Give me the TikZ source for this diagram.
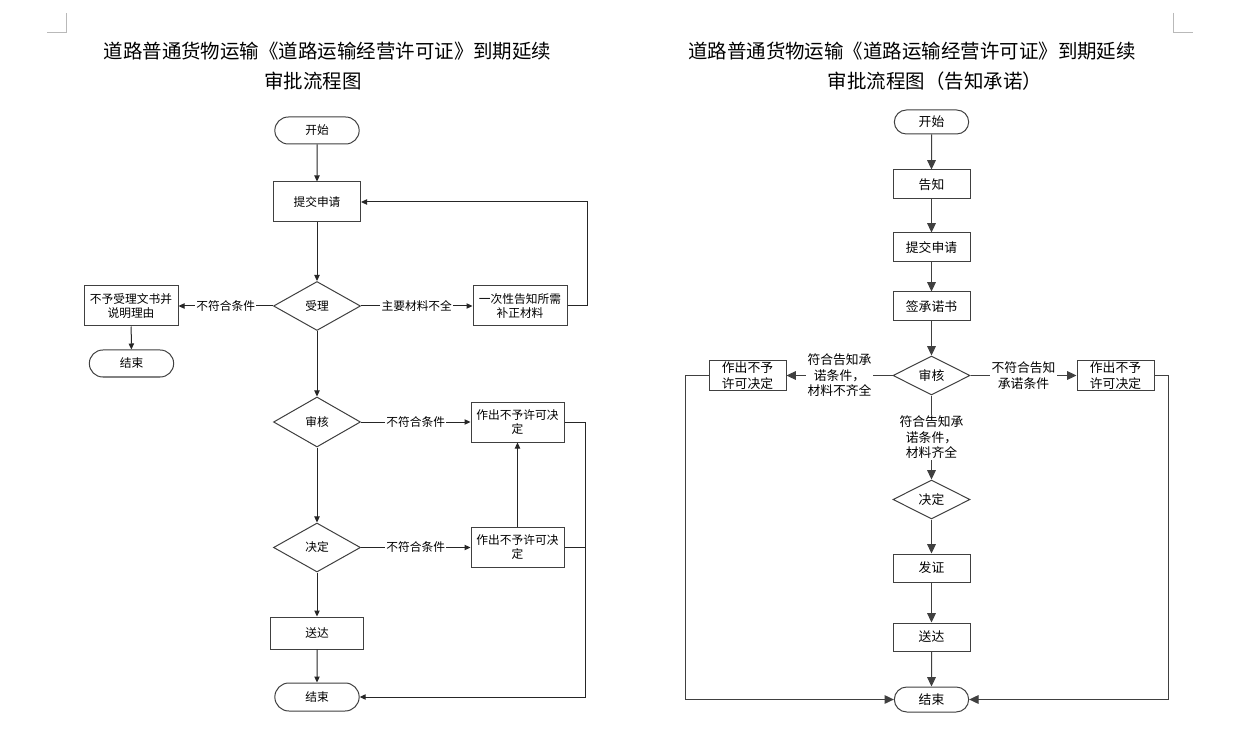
\documentclass[tikz,border=0pt]{standalone}
\usepackage{fontspec}
\setmainfont{Noto Sans CJK SC}
\usetikzlibrary{arrows.meta,shapes.geometric,shapes.misc}
\begin{document}
\begin{tikzpicture}[x=0.75pt,y=-0.75pt,
  sz/.style 2 args={minimum width=#1*0.75pt,minimum height=#2*0.75pt},
  lfont/.style={font=\fontsize{8.8}{10.5}\selectfont},
  rfont/.style={font=\fontsize{9.6}{11.6}\selectfont},
  box/.style={draw=black!75,line width=0.75pt,inner sep=1pt,align=center},
  pill/.style={box,rounded rectangle},
  dia/.style={box,diamond,aspect=2,inner sep=0pt},
  lab/.style={fill=white,inner sep=1pt,align=center},
  larr/.style={draw=black!85,line width=0.75pt,-{Triangle[length=4.5pt,width=4pt]}},
  lline/.style={draw=black!85,line width=0.75pt},
  rarr/.style={draw=black!75,line width=0.75pt,-{Triangle[length=7pt,width=6.5pt]}},
  ttl/.style={font=\fontsize{14.6}{17}\selectfont,inner sep=0pt},
  cornermark/.style={draw=gray!55,line width=0.75pt}
]
\fill[white] (0,0) rectangle (1257,734);
\useasboundingbox (0,0) rectangle (1257,734);

% corner marks
\draw[cornermark] (47,33) -- (66,33) -- (66,13);
\draw[cornermark] (1173,13) -- (1173,33) -- (1193,33);

% titles
\node[ttl] (t1a) at (327.5,51) {道路普通货物运输《道路运输经营许可证》到期延续};
\node[ttl] (t1b) at (313,81) {审批流程图};
\node[ttl] (t2a) at (912,51) {道路普通货物运输《道路运输经营许可证》到期延续};
\node[ttl] (t2b) at (935,81) {审批流程图（告知承诺）};

% ---------- left diagram ----------
\begin{scope}[every node/.append style={lfont}]
\node[pill,sz={87}{27}] (Lstart) at (317,130.5) {开始};
\node[box,sz={87}{40}] (Lsubmit) at (317,202) {提交申请};
\node[dia,sz={87}{49}] (Laccept) at (317,306) {受理};
\node[box,sz={94}{40}] (Lreject) at (131,306) {不予受理文书并\\说明理由};
\node[pill,sz={87}{27}] (Lend1) at (131.5,363.5) {结束};
\node[box,sz={94}{40}] (Lnotify) at (520,306) {一次性告知所需\\补正材料};
\node[dia,sz={87}{50}] (Lreview) at (317,422) {审核};
\node[box,sz={93}{40}] (Lno1) at (517.5,422) {作出不予许可决\\定};
\node[dia,sz={87}{49}] (Ldecide) at (317,547.5) {决定};
\node[box,sz={93}{40}] (Lno2) at (517.5,547.5) {作出不予许可决\\定};
\node[box,sz={93}{32}] (Ldeliver) at (317,633) {送达};
\node[pill,sz={87}{28}] (Lend2) at (317,697) {结束};
\end{scope}

\draw[larr] (Lstart) -- (Lsubmit);
\draw[larr] (Lsubmit) -- (Laccept);
\draw[larr] (Laccept) -- node[lab,lfont]{不符合条件} (Lreject);
\draw[larr] (Laccept) -- node[lab,lfont]{主要材料不全} (Lnotify);
\draw[larr] (Lreject) -- (Lend1);
\draw[larr] (Lnotify.east) -- ++(20,0) |- (Lsubmit.east);
\draw[larr] (Laccept) -- (Lreview);
\draw[larr] (Lreview) -- node[lab,lfont]{不符合条件} (Lno1);
\draw[larr] (Lreview) -- (Ldecide);
\draw[larr] (Ldecide) -- node[lab,lfont]{不符合条件} (Lno2);
\draw[larr] (Lno2) -- (Lno1);
\draw[larr] (Ldecide) -- (Ldeliver);
\draw[larr] (Ldeliver) -- (Lend2);
\coordinate (Lrc) at (585,422);
\draw[larr] (Lno1.east) -- (Lrc) |- (Lend2.east);
\draw[lline] (Lno2.east) -- (Lno2.east -| Lrc);

% ---------- right diagram ----------
\begin{scope}[every node/.append style={rfont}]
\node[pill,sz={77}{24}] (Rstart) at (931.5,122) {开始};
\node[box,sz={77}{29}] (Rnotify) at (931.5,184.5) {告知};
\node[box,sz={77}{29}] (Rsubmit) at (931.5,247.5) {提交申请};
\node[box,sz={77}{29}] (Rsign) at (931.5,306.5) {签承诺书};
\node[dia,sz={77}{39}] (Rreview) at (931.5,375.5) {审核};
\node[box,sz={77}{28}] (RnoL) at (747.5,375.5) {作出不予\\许可决定};
\node[box,sz={77}{28}] (RnoR) at (1115.5,375.5) {作出不予\\许可决定};
\node[dia,sz={77}{39}] (Rdecide) at (931.5,499.5) {决定};
\node[box,sz={77}{28}] (Rcert) at (931.5,568) {发证};
\node[box,sz={77}{28}] (Rdeliver) at (931.5,637) {送达};
\node[pill,sz={77}{25}] (Rend) at (931.5,699.5) {结束};
\end{scope}

\draw[rarr] (Rstart) -- (Rnotify);
\draw[rarr] (Rnotify) -- (Rsubmit);
\draw[rarr] (Rsubmit) -- (Rsign);
\draw[rarr] (Rsign) -- (Rreview);
\draw[rarr] (Rreview) -- node[lab,rfont]{符合告知承\\诺条件，\\材料不齐全} (RnoL);
\draw[rarr] (Rreview) -- node[lab,rfont]{不符合告知\\承诺条件} (RnoR);
\draw[rarr] (Rreview) -- node[lab,rfont]{符合告知承\\诺条件，\\材料齐全} (Rdecide);
\draw[rarr] (Rdecide) -- (Rcert);
\draw[rarr] (Rcert) -- (Rdeliver);
\draw[rarr] (Rdeliver) -- (Rend);
\coordinate (RcL) at (685,375.5);
\coordinate (RcR) at (1168,375.5);
\draw[rarr] (RnoL.west) -- (RcL) |- (Rend.west);
\draw[rarr] (RnoR.east) -- (RcR) |- (Rend.east);
\end{tikzpicture}
\end{document}
